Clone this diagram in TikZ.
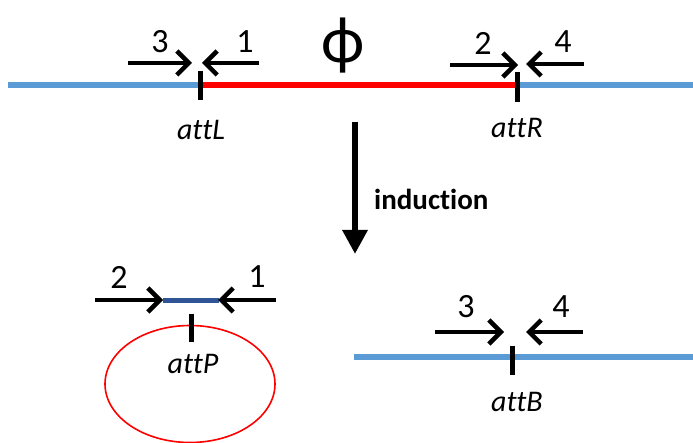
\documentclass[tikz,border=0pt]{standalone}
\usepackage{fontspec}
\setmainfont{Carlito}[Ligatures={NoCommon}]
\usetikzlibrary{arrows.meta, shapes.geometric}
\definecolor{hostblue}{RGB}{91,155,213}
\definecolor{phagered}{RGB}{255,0,0}
\definecolor{siteblue}{RGB}{47,85,151}

\begin{document}
\begin{tikzpicture}
	[x=1pt, y=-1pt,
	 dna/.style={line width=6.5pt},
	 site/.style={line width=5pt},
	 primer/.style={line width=4.5pt, -{Straight Barb[length=12pt, width=24pt, line width=4.5pt]}},
	 num/.style={font=\fontsize{34}{34}\selectfont, inner sep=0pt},
	 att/.style={font=\fontsize{30}{30}\selectfont\itshape, inner sep=0pt}]
	\useasboundingbox (0,0) rectangle (693,443);

	% prophage
	\coordinate (L0) at (8,85);
	\coordinate (L) at (201,85);
	\coordinate (R) at (517,85);
	\coordinate (R0) at (693,85);
	\draw[dna, hostblue] (L0) -- (L);
	\draw[dna, phagered] (L) -- (R);
	\draw[dna, hostblue] (R) -- (R0);
	\draw[site] (200,71) -- (200,100);
	\draw[site] (517,72) -- (517,102);
	\node[att] (attL) at (201,130) {attL};
	\node[att] (attR) at (517,128) {attR};
	\node[font=\fontsize{66}{66}\selectfont, inner sep=0pt] (phi) at (343,46) {ϕ};

	\coordinate (p3s) at (128,63); \coordinate (p3e) at (192,63);
	\coordinate (p1s) at (259,63); \coordinate (p1e) at (202,63);
	\coordinate (p2s) at (450,65); \coordinate (p2e) at (518,65);
	\coordinate (p4s) at (584,64); \coordinate (p4e) at (526,64);
	\draw[primer] (p3s) -- (p3e);
	\draw[primer] (p1s) -- (p1e);
	\draw[primer] (p2s) -- (p2e);
	\draw[primer] (p4s) -- (p4e);
	\node[num] (n3) at (160,42) {3};
	\node[num] (n1) at (245,42) {1};
	\node[num] (n2) at (483,43) {2};
	\node[num] (n4) at (563,42) {4};

	% induction
	\coordinate (i0) at (355,122);
	\coordinate (i1) at (355,254);
	\draw[line width=6pt, -{Triangle[length=24pt, width=24pt]}] (i0) -- (i1);
	\node[font=\fontsize{29}{29}\selectfont\bfseries, anchor=west, inner sep=0pt] (ind) at (374,199) {induction};

	% excised phage circle
	\node[draw=phagered, line width=1.6pt, ellipse, minimum width=170pt, minimum height=117pt, inner sep=0pt] (circ) at (190,384) {};
	\coordinate (P0) at (163,301);
	\coordinate (P1) at (219,301);
	\draw[site, siteblue] (P0) -- (P1);
	\draw[site] (191,314) -- (191,342);
	\node[att] (attP) at (193,364) {attP};
	\coordinate (q2s) at (95,300); \coordinate (q2e) at (163,300);
	\coordinate (q1s) at (276,300); \coordinate (q1e) at (218,300);
	\draw[primer] (q2s) -- (q2e);
	\draw[primer] (q1s) -- (q1e);
	\node[num] (m2) at (119,277) {2};
	\node[num] (m1) at (257,277) {1};

	% bacterial attB
	\coordinate (B0) at (354,357);
	\coordinate (B1) at (693,357);
	\draw[dna, hostblue] (B0) -- (B1);
	\draw[site] (512,346) -- (512,375);
	\node[att] (attB) at (517,402) {attB};
	\coordinate (r3s) at (435,332); \coordinate (r3e) at (504,332);
	\coordinate (r4s) at (583,332); \coordinate (r4e) at (526,332);
	\draw[primer] (r3s) -- (r3e);
	\draw[primer] (r4s) -- (r4e);
	\node[num] (k3) at (466,307) {3};
	\node[num] (k4) at (561,307) {4};
\end{tikzpicture}
\end{document}
